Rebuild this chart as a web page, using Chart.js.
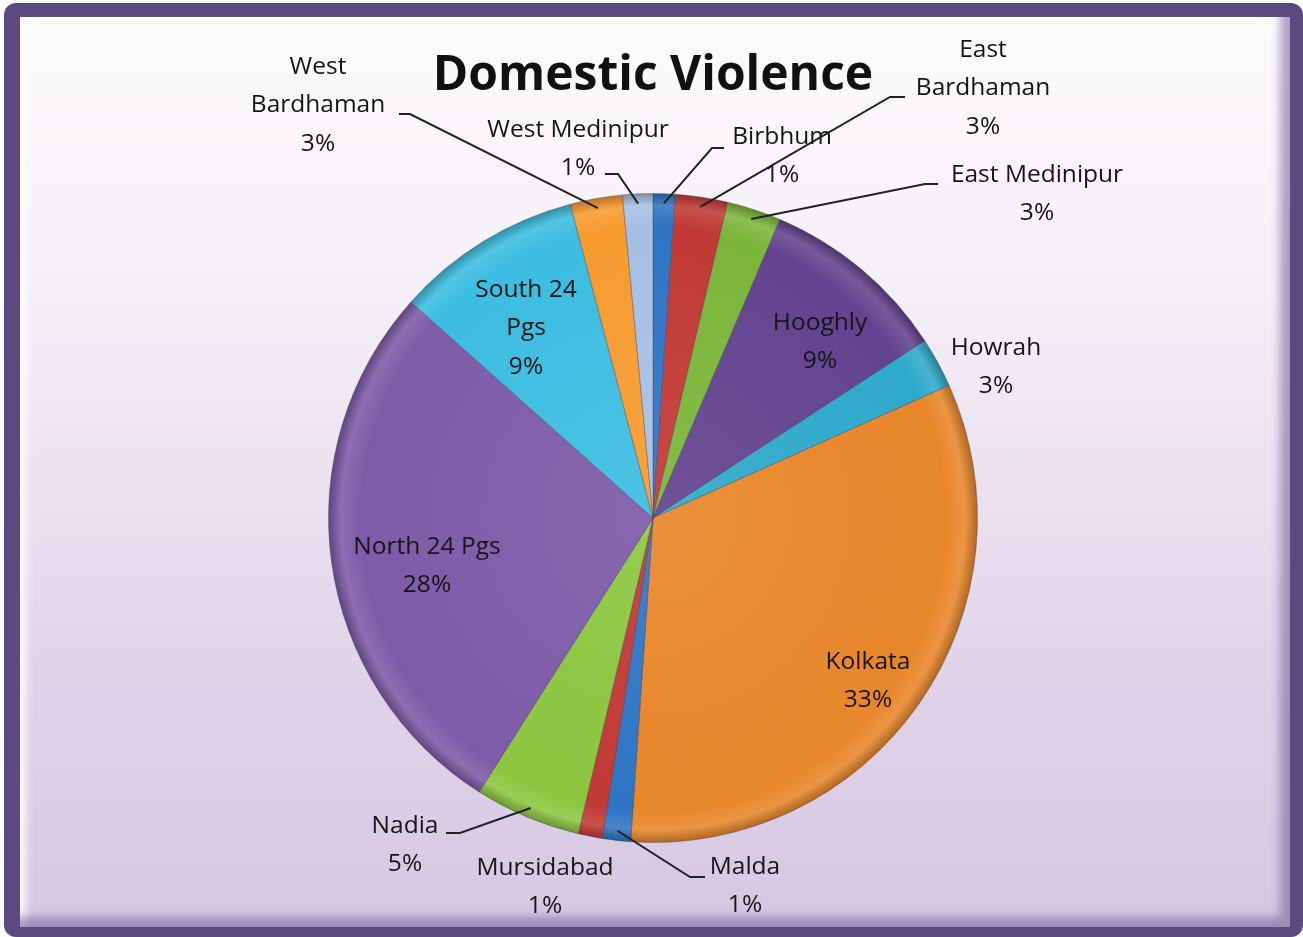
<!DOCTYPE html>
<html>
<head>
<meta charset="utf-8">
<script src="https://cdn.jsdelivr.net/npm/chart.js@4/dist/chart.umd.min.js"></script>
<style>
  body { margin: 0; width: 1303px; height: 937px; overflow: hidden; background: #ffffff; }
  #frame { position: absolute; left: 4px; top: 3px; width: 1299px; height: 934px; background: #5c4a7e; border-radius: 12px; }
  #inner {
    position: absolute; left: 20px; top: 17px; width: 1270px; height: 910px;
    background: linear-gradient(to bottom, #fefcfe 0%, #f3ecf5 35%, #dfd2e8 75%, #d6c8e3 100%);
    box-shadow: inset -14px -14px 10px -4px rgba(110, 90, 150, 0.55), inset 10px 10px 8px -4px rgba(255, 255, 255, 0.9);
  }
  #chart { position: absolute; left: 0; top: 0; }
</style>
</head>
<body>
<div id="frame"></div>
<div id="inner"></div>
<canvas id="chart" width="1303" height="937"></canvas>
<script>
const districts = ["Birbhum", "East Bardhaman", "East Medinipur", "Hooghly", "Howrah", "Kolkata", "Malda",
    "Mursidabad", "Nadia", "North 24 Pgs", "South 24 Pgs", "West Bardhaman", "West Medinipur"];
const shares = [1.1, 2.6, 2.7, 9.4, 2.5, 32.8, 1.4, 1.2, 5.3, 27.6, 9.3, 2.6, 1.5];
const pctLabels = ["1%", "3%", "3%", "9%", "3%", "33%", "1%", "1%", "5%", "28%", "9%", "3%", "1%"];
const sliceColors = ["#2f75c4", "#c13a35", "#7cb53b", "#63438f", "#2fa9cb", "#e8862a", "#2f75c4",
    "#c13a35", "#8cc640", "#7d5ba8", "#3cbde1", "#f79b30", "#a6c0e4"];

// where each label sits; leader = points from the slice edge outwards
const labelLayout = [
    { lines: ["Birbhum"], x: 782, y: 137, leader: [[712, 148], [724, 148]] },
    { lines: ["East", "Bardhaman"], x: 983, y: 50, leader: [[890, 97], [905, 97]] },
    { lines: ["East Medinipur"], x: 1037, y: 175, leader: [[925, 184], [938, 184]] },
    { lines: ["Hooghly"], x: 820, y: 323 },
    { lines: ["Howrah"], x: 996, y: 348 },
    { lines: ["Kolkata"], x: 868, y: 662 },
    { lines: ["Malda"], x: 745, y: 867, leader: [[690, 877], [705, 877]] },
    { lines: ["Mursidabad"], x: 545, y: 868 },
    { lines: ["Nadia"], x: 405, y: 826, leader: [[460, 833], [446, 833]] },
    { lines: ["North 24 Pgs"], x: 427, y: 547 },
    { lines: ["South 24", "Pgs"], x: 526, y: 290 },
    { lines: ["West", "Bardhaman"], x: 318, y: 67, leader: [[410, 114], [399, 114]] },
    { lines: ["West Medinipur"], x: 578, y: 130, leader: [[618, 174], [605, 174]] }
];

function shade(hex, amt) {
    const n = parseInt(hex.slice(1), 16);
    let r = (n >> 16) & 255, g = (n >> 8) & 255, b = n & 255;
    const f = c => Math.max(0, Math.min(255, Math.round(amt > 0 ? c + (255 - c) * amt : c * (1 + amt))));
    return "rgb(" + f(r) + "," + f(g) + "," + f(b) + ")";
}

function sliceFill(ctx) {
    const chart = ctx.chart;
    const area = chart.chartArea;
    if (!area) return sliceColors[ctx.dataIndex];
    const cx = (area.left + area.right) / 2, cy = (area.top + area.bottom) / 2;
    const r = Math.min(area.right - area.left, area.bottom - area.top) / 2;
    const base = sliceColors[ctx.dataIndex];
    const g = chart.ctx.createRadialGradient(cx, cy, 0, cx, cy, r);
    g.addColorStop(0, shade(base, 0.08));
    g.addColorStop(0.9, base);
    g.addColorStop(0.96, shade(base, 0.12));
    g.addColorStop(1, shade(base, -0.25));
    return g;
}

const labelPlugin = {
    id: "sliceLabels",
    afterDatasetsDraw(chart) {
        const ctx = chart.ctx;
        const arcs = chart.getDatasetMeta(0).data;
        ctx.save();
        ctx.font = "24.5px 'Open Sans', sans-serif";
        ctx.fillStyle = "#151515";
        ctx.textAlign = "center";
        ctx.textBaseline = "middle";
        labelLayout.forEach((lab, i) => {
            const arc = arcs[i];
            if (lab.leader) {
                const mid = (arc.startAngle + arc.endAngle) / 2;
                const ex = arc.x + Math.cos(mid) * arc.outerRadius * 0.97;
                const ey = arc.y + Math.sin(mid) * arc.outerRadius * 0.97;
                ctx.beginPath();
                ctx.strokeStyle = "#222";
                ctx.lineWidth = 2;
                ctx.moveTo(ex, ey);
                lab.leader.forEach(p => ctx.lineTo(p[0], p[1]));
                ctx.stroke();
            }
            const lines = lab.lines.concat([pctLabels[i]]);
            lines.forEach((t, k) => ctx.fillText(t, lab.x, lab.y + k * 38.5));
        });
        ctx.restore();
    }
};

new Chart(document.getElementById("chart"), {
    type: "pie",
    data: {
        labels: districts,
        datasets: [{
            data: shares,
            backgroundColor: sliceFill,
            borderColor: "rgba(60,50,70,0.35)",
            borderWidth: 1
        }]
    },
    options: {
        responsive: false,
        animation: false,
        layout: { padding: { top: 48, bottom: 94, left: 328, right: 325 } },
        plugins: {
            legend: { display: false },
            tooltip: { enabled: false },
            title: {
                display: true,
                text: "Domestic Violence",
                color: "#111",
                font: { family: "'Open Sans', sans-serif", size: 48, weight: "bold" },
                padding: { top: 0, bottom: 87.4 }
            }
        }
    },
    plugins: [labelPlugin]
});
</script>
</body>
</html>
